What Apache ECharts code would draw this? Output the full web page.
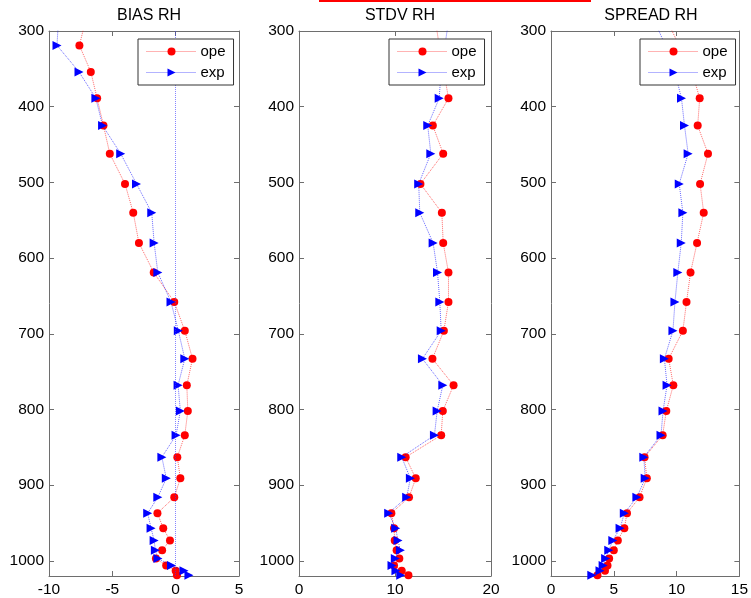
<!DOCTYPE html>
<html><head><meta charset="utf-8">
<script src="https://cdn.jsdelivr.net/npm/echarts@6/dist/echarts.min.js"></script>
<style>html,body{margin:0;padding:0;background:#fff}#c{width:751px;height:598px}</style>
</head><body><div id="c"></div>
<script>
const pressure = [285, 319, 354, 389, 425, 462, 502, 540, 580, 619, 658, 696, 733, 768, 802, 834, 863, 891, 916, 937, 957, 973, 986, 997, 1006, 1013, 1019];
const biasOpe = [-7.1, -7.6, -6.7, -6.2, -5.7, -5.2, -4.0, -3.35, -2.9, -1.73, -0.11, 0.72, 1.33, 0.88, 0.96, 0.72, 0.13, 0.37, -0.11, -1.44, -0.98, -0.45, -1.07, -1.56, -0.75, 0.0, 0.1];
const biasExp = [-9.25, -9.37, -7.63, -6.3, -5.77, -4.34, -3.09, -1.89, -1.7, -1.41, -0.37, 0.21, 0.72, 0.19, 0.37, 0.03, -1.09, -0.74, -1.41, -2.21, -1.94, -1.7, -1.6, -1.4, -0.33, 0.66, 1.05];
const stdvOpe = [14.2, 14.6, 15.1, 15.57, 13.94, 15.02, 12.65, 14.88, 15.02, 15.57, 15.57, 15.09, 13.9, 16.1, 14.98, 14.81, 11.11, 12.16, 11.46, 9.62, 9.9, 9.97, 10.17, 10.45, 9.9, 10.7, 11.4];
const stdvExp = [15.6, 15.2, 14.8, 14.6, 13.41, 13.73, 12.47, 12.58, 13.97, 14.43, 14.67, 14.81, 12.86, 14.98, 14.39, 14.11, 10.7, 11.6, 11.22, 9.34, 10.07, 10.31, 10.56, 10.03, 9.69, 10.1, 10.6];
const spreadOpe = [9.2, 10.2, 11.24, 11.84, 11.68, 12.5, 11.87, 12.16, 11.63, 11.11, 10.79, 10.5, 9.37, 9.74, 9.18, 8.89, 7.45, 7.63, 7.05, 6.05, 5.84, 5.32, 5.0, 4.63, 4.5, 4.3, 3.7];
const spreadExp = [8.2, 9.1, 9.86, 10.39, 10.63, 10.92, 10.21, 10.5, 10.37, 10.1, 9.87, 9.71, 9.03, 9.24, 8.92, 8.76, 7.39, 7.5, 6.84, 5.84, 5.5, 4.92, 4.6, 4.35, 4.15, 3.9, 3.25];
const titles = ['BIAS RH', 'STDV RH', 'SPREAD RH'];
const xRanges = [[-10, 5, 5], [0, 20, 10], [0, 15, 5]];
const yTicks = [300, 1020, 100];
const seriesNames = ['ope', 'exp'];

const FONT = 'Liberation Sans, Arial, sans-serif';
const AX = '#6e6e6e';
const panels = [
  {left: 49, width: 190, ope: biasOpe, exp: biasExp, leg: 138},
  {left: 299, width: 192, ope: stdvOpe, exp: stdvExp, leg: 389},
  {left: 551, width: 190, ope: spreadOpe, exp: spreadExp, leg: 640}
];
const pair = (vals) => vals.map((v, i) => [v, pressure[i]]);

const grid = [], xAxis = [], yAxis = [], series = [], title = [], legend = [];
panels.forEach((p, i) => {
  grid.push({left: p.left, top: 31, width: p.width, height: 545, containLabel: false});
  const [xmin, xmax, xint] = xRanges[i];
  const baseX = {type: 'value', gridIndex: i, min: xmin, max: xmax, interval: xint,
    axisLine: {show: true, onZero: false, lineStyle: {color: AX, width: 1}},
    axisTick: {show: true, inside: true, length: 5, lineStyle: {color: AX}},
    splitLine: {show: false}};
  xAxis.push(Object.assign({}, baseX, {position: 'bottom',
    axisLabel: {color: '#000', fontSize: 15.5, fontFamily: FONT, margin: 6}}));
  xAxis.push(Object.assign({}, baseX, {position: 'top', axisLabel: {show: false}}));
  const baseY = {type: 'value', gridIndex: i, inverse: true, min: yTicks[0], max: yTicks[1], interval: yTicks[2],
    axisLine: {show: true, onZero: false, lineStyle: {color: AX, width: 1}},
    axisTick: {show: true, inside: true, length: 5, lineStyle: {color: AX}},
    splitLine: {show: false}};
  yAxis.push(Object.assign({}, baseY, {position: 'left',
    axisLabel: {color: '#000', fontSize: 15.5, fontFamily: FONT, margin: 5,
      formatter: v => (v % 100 === 0 ? String(v) : '')}}));
  yAxis.push(Object.assign({}, baseY, {position: 'right', axisLabel: {show: false}}));

  const opeS = {name: 'ope', type: 'line', xAxisIndex: 2 * i, yAxisIndex: 2 * i,
    data: pair(p.ope), symbol: 'circle', symbolSize: 8, showAllSymbol: true,
    itemStyle: {color: '#ff0000'}, lineStyle: {color: '#ff0000', width: 1, type: 'dotted', opacity: 0.6},
    clip: true, animation: false, z: 2};
  const expS = {name: 'exp', type: 'line', xAxisIndex: 2 * i, yAxisIndex: 2 * i,
    data: pair(p.exp), symbol: 'triangle', symbolSize: 9, symbolRotate: -90, showAllSymbol: true,
    itemStyle: {color: '#0000ff'}, lineStyle: {color: '#0000ff', width: 1, type: 'dotted', opacity: 0.6},
    clip: true, animation: false, z: 3};
  if (i === 0) {
    expS.markLine = {silent: true, symbol: 'none', label: {show: false},
      lineStyle: {color: '#3333ff', type: 'dotted', width: 1, opacity: 0.6},
      emphasis: {disabled: true},
      data: [{xAxis: 0}], animation: false};
  }
  series.push(opeS, expS);

  title.push({text: titles[i], left: p.left + p.width / 2, top: 3, textAlign: 'center',
    textStyle: {fontSize: 16, fontWeight: 'normal', color: '#000', fontFamily: FONT}});
  legend.push({data: seriesNames, orient: 'vertical', left: p.leg, top: 39,
    backgroundColor: '#fff', borderColor: '#333', borderWidth: 1, borderRadius: 0,
    padding: [5, 8, 5, 8], itemWidth: 50, itemHeight: 10, itemGap: 6, selectedMode: false,
    lineStyle: {width: 1, type: 'dotted', opacity: 0.6},
    textStyle: {fontSize: 15, fontFamily: FONT, color: '#000', padding: [0, 0, 0, -1]}, z: 10});
});

const chart = echarts.init(document.getElementById('c'), null, {renderer: 'canvas'});
chart.setOption({
  backgroundColor: '#fff',
  animation: false,
  title, grid, xAxis, yAxis, series, legend,
  graphic: [{type: 'line', shape: {x1: 319, y1: 1, x2: 591, y2: 1}, style: {stroke: '#ff0000', lineWidth: 2}}]
});
</script></body></html>
